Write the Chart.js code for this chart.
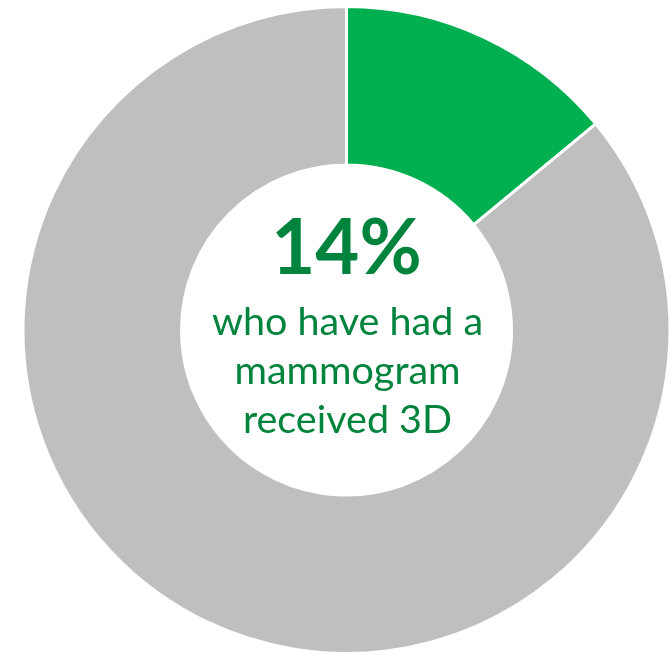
<!DOCTYPE html>
<html>
<head>
<meta charset="utf-8">
<script src="https://cdn.jsdelivr.net/npm/chart.js@4/dist/chart.umd.min.js"></script>
<style>
    html, body { margin: 0; padding: 0; background: #fff; }
    #wrap { width: 672px; height: 655px; }
</style>
</head>
<body>
<div id="wrap"><canvas id="donut"></canvas></div>
<script>
const labels = ['Received 3D', 'Other'];
const values = [14, 86];
const colors = ['#00B050', '#BFBFBF'];
const captionLines = ['who have had a', 'mammogram', 'received 3D'];

// big percentage and caption in the hole
const centerText = {
    id: 'centerText',
    afterDraw(chart) {
        const arc = chart.getDatasetMeta(0).data[0];
        const x = arc.x, y = arc.y;
        const ctx = chart.ctx;
        ctx.save();
        ctx.fillStyle = '#00843D';
        ctx.textAlign = 'center';
        ctx.textBaseline = 'alphabetic';
        ctx.font = 'bold 76px Lato';
        ctx.fillText(values[0] + '%', x, y - 56);
        ctx.font = '39.5px Lato';
        captionLines.forEach((line, i) => {
            ctx.fillText(line, x + 1, y + 5 + i * 49);
        });
        ctx.restore();
    }
};

new Chart(document.getElementById('donut'), {
    type: 'doughnut',
    data: {
        labels: labels,
        datasets: [{
            data: values,
            backgroundColor: colors,
            borderColor: '#fff',
            borderWidth: 3
        }]
    },
    options: {
        responsive: true,
        maintainAspectRatio: false,
        animation: false,
        cutout: '51%',
        layout: { padding: { left: 21, top: 5, right: 0, bottom: 0 } },
        plugins: {
            legend: { display: false },
            tooltip: { enabled: false }
        }
    },
    plugins: [centerText]
});
</script>
</body>
</html>
